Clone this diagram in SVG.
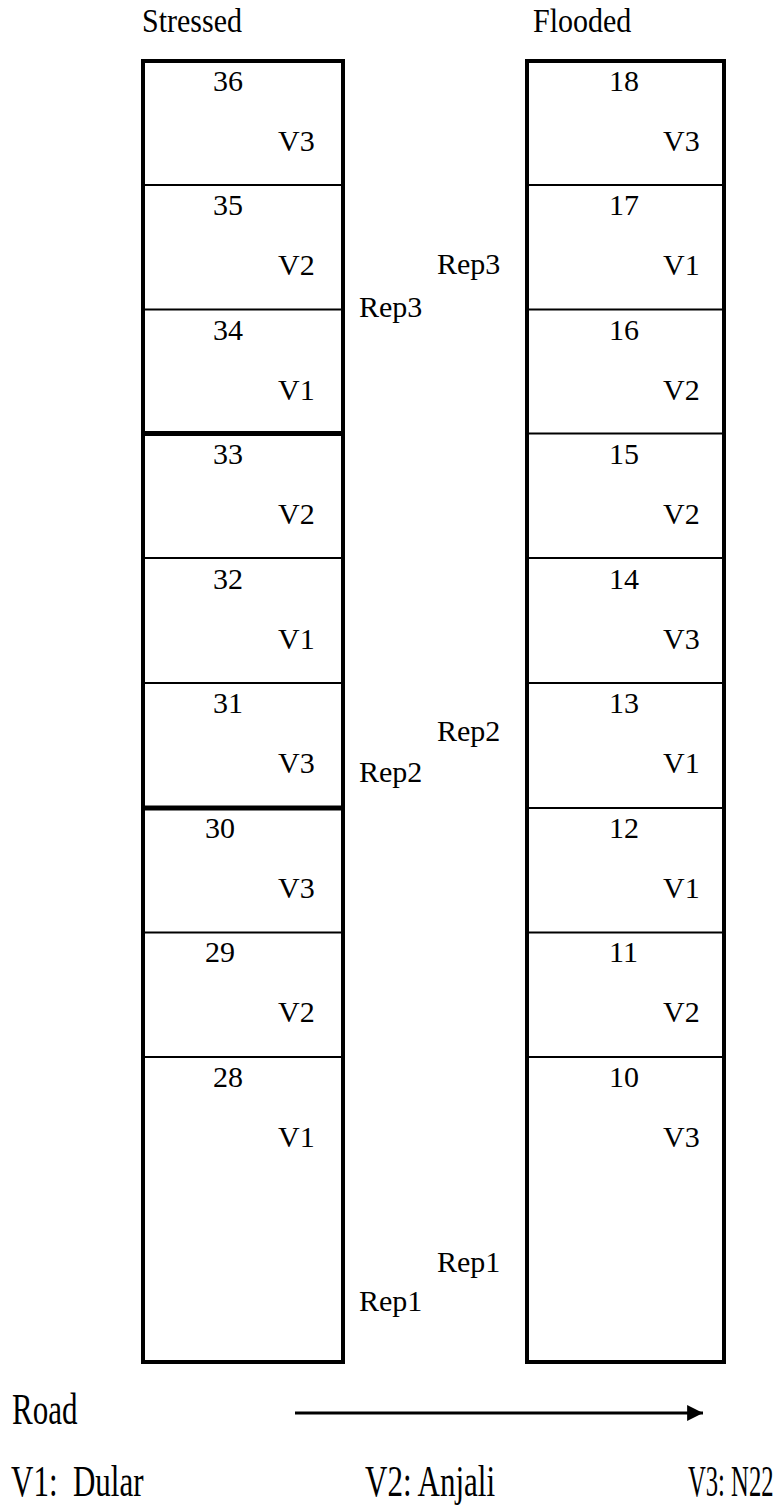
<svg xmlns="http://www.w3.org/2000/svg" width="774" height="1505" viewBox="0 0 774 1505">
<style>
text{font-family:"Liberation Serif","Times New Roman",serif;fill:#000}
.t{font-size:30px}
.lg{font-size:31px}
.frame{fill:none;stroke:#000;stroke-width:4}
.thin{stroke:#000;stroke-width:2}
.thick{stroke:#000;stroke-width:5}
.conn{stroke:#000;stroke-width:3;fill:none}
</style>
<defs>
<marker id="ah" markerWidth="6" markerHeight="6" refX="5.3" refY="3" orient="auto" markerUnits="strokeWidth">
<path d="M0,0.3 L5.3,3 L0,5.7 Z" fill="#000"/>
</marker>
</defs>
<rect width="774" height="1505" fill="#fff"/>

<g id="headers">
<text class="t" transform="translate(142,32) scale(1,1.12)">Stressed</text>
<text class="t" transform="translate(533,32) scale(1,1.12)">Flooded</text>
</g>

<g id="stressed">
<rect class="frame" x="143" y="61" width="200" height="1301"/>
<line class="thin" x1="143" y1="185" x2="343" y2="185"/>
<line class="thin" x1="143" y1="309.5" x2="343" y2="309.5"/>
<line class="thick" x1="143" y1="433.5" x2="343" y2="433.5"/>
<line class="thin" x1="143" y1="558" x2="343" y2="558"/>
<line class="thin" x1="143" y1="683" x2="343" y2="683"/>
<line class="thick" x1="143" y1="808" x2="343" y2="808"/>
<line class="thin" x1="143" y1="932.5" x2="343" y2="932.5"/>
<line class="thin" x1="143" y1="1057" x2="343" y2="1057"/>
<g id="s36"><text class="t" x="213" y="91">36</text><text class="t" x="278" y="151">V3</text></g>
<g id="s35"><text class="t" x="213" y="215">35</text><text class="t" x="278" y="275">V2</text></g>
<g id="s34"><text class="t" x="213" y="340">34</text><text class="t" x="278" y="400">V1</text></g>
<g id="s33"><text class="t" x="213" y="464">33</text><text class="t" x="278" y="524">V2</text></g>
<g id="s32"><text class="t" x="213" y="589">32</text><text class="t" x="278" y="649">V1</text></g>
<g id="s31"><text class="t" x="213" y="713">31</text><text class="t" x="278" y="773">V3</text></g>
<g id="s30"><text class="t" x="205" y="838">30</text><text class="t" x="278" y="898">V3</text></g>
<g id="s29"><text class="t" x="205" y="962">29</text><text class="t" x="278" y="1022">V2</text></g>
<g id="s28"><text class="t" x="213" y="1087">28</text><text class="t" x="278" y="1147">V1</text></g>
</g>

<g id="flooded">
<rect class="frame" x="527" y="61" width="197" height="1301"/>
<line class="thin" x1="527" y1="185" x2="724" y2="185"/>
<line class="thin" x1="527" y1="309.5" x2="724" y2="309.5"/>
<line class="thin" x1="527" y1="433.5" x2="724" y2="433.5"/>
<line class="thin" x1="527" y1="558" x2="724" y2="558"/>
<line class="thin" x1="527" y1="683" x2="724" y2="683"/>
<line class="thin" x1="527" y1="808" x2="724" y2="808"/>
<line class="thin" x1="527" y1="932.5" x2="724" y2="932.5"/>
<line class="thin" x1="527" y1="1057" x2="724" y2="1057"/>
<g id="f18"><text class="t" x="609" y="91">18</text><text class="t" x="663" y="151">V3</text></g>
<g id="f17"><text class="t" x="609" y="215">17</text><text class="t" x="663" y="275">V1</text></g>
<g id="f16"><text class="t" x="609" y="340">16</text><text class="t" x="663" y="400">V2</text></g>
<g id="f15"><text class="t" x="609" y="464">15</text><text class="t" x="663" y="524">V2</text></g>
<g id="f14"><text class="t" x="609" y="589">14</text><text class="t" x="663" y="649">V3</text></g>
<g id="f13"><text class="t" x="609" y="713">13</text><text class="t" x="663" y="773">V1</text></g>
<g id="f12"><text class="t" x="609" y="838">12</text><text class="t" x="663" y="898">V1</text></g>
<g id="f11"><text class="t" x="609" y="962">11</text><text class="t" x="663" y="1022">V2</text></g>
<g id="f10"><text class="t" x="609" y="1087">10</text><text class="t" x="663" y="1147">V3</text></g>
</g>

<g id="reps">
<text class="t" x="437" y="274">Rep3</text>
<text class="t" x="359" y="317">Rep3</text>
<text class="t" x="437" y="741">Rep2</text>
<text class="t" x="359" y="782">Rep2</text>
<text class="t" x="437" y="1272">Rep1</text>
<text class="t" x="359" y="1311">Rep1</text>
</g>

<g id="road">
<text class="lg" transform="translate(12,1424) scale(1,1.4)">Road</text>
</g>

<g id="connectors">
<line class="conn" x1="295" y1="1413" x2="703" y2="1413" marker-end="url(#ah)"/>
</g>

<g id="legend">
<text class="lg" transform="translate(11,1496) scale(1,1.4)" xml:space="preserve">V1:  Dular</text>
<text class="lg" transform="translate(365,1496) scale(1,1.4)">V2: Anjali</text>
<text style="font-size:29px" transform="translate(688,1496) scale(0.85,1.5)">V3: N22</text>
</g>
</svg>
